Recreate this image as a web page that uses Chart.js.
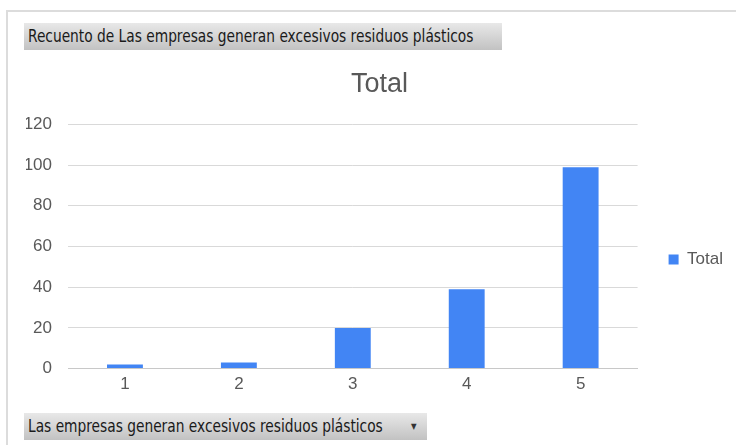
<!DOCTYPE html>
<html>
<head>
<meta charset="utf-8">
<script src="https://cdn.jsdelivr.net/npm/chart.js@4/dist/chart.umd.min.js"></script>
<style>
  html, body { margin: 0; padding: 0; background: #fff; }
  #wrap { position: relative; width: 736px; height: 445px; overflow: hidden; }
  #frame { position: absolute; left: 6px; top: 10px; width: 760px; height: 460px; border-left: 2px solid #dcdcdc; border-top: 2px solid #dcdcdc; box-sizing: border-box; }
  canvas { position: absolute; left: 0; top: 0; }
  .pill {
    position: absolute; height: 27px; line-height: 27px; box-sizing: border-box;
    font-family: "DejaVu Sans Condensed", "DejaVu Sans", sans-serif;
    font-size: 17px; color: #1a1a1a; white-space: nowrap;
    background: linear-gradient(#e8e8e8, #c2c2c2);
  }
  .pill .txt { position: absolute; left: 4px; top: 0; transform: scaleX(0.9); transform-origin: left center; }
  #top-pill { left: 24px; top: 23px; width: 478px; }
  #bottom-pill { left: 24px; top: 413px; width: 403px; }
  #bottom-pill .arrow { position: absolute; left: 387px; top: 0; font-size: 8px; color: #333; }
</style>
</head>
<body>
<div id="wrap">
  <div id="frame"></div>
  <canvas id="chart" width="736" height="445"></canvas>
  <div class="pill" id="top-pill"><span class="txt">Recuento de Las empresas generan excesivos residuos plásticos</span></div>
  <div class="pill" id="bottom-pill"><span class="txt">Las empresas generan excesivos residuos plásticos</span><span class="arrow">▼</span></div>
</div>
<script>
const categories = ['1', '2', '3', '4', '5']
const totals = [2, 3, 20, 39, 99]
const seriesName = 'Total'
const chartTitle = 'Total'

const grey = '#595959'
const font = "'Liberation Sans', Arial, sans-serif"

new Chart(document.getElementById('chart').getContext('2d'), {
  type: 'bar',
  data: {
    labels: categories,
    datasets: [
      { label: seriesName, data: totals, backgroundColor: '#4285F4', barPercentage: 0.63, categoryPercentage: 0.5 },
    ],
  },
  options: {
    responsive: false,
    animation: false,
    layout: { padding: { left: 26, right: 3, top: 0, bottom: 44 } },
    plugins: {
      title: {
        display: true, text: chartTitle, color: grey,
        font: { family: font, size: 27, weight: 'normal' },
        padding: { top: 68, bottom: 24 },
      },
      legend: {
        position: 'right',
        fullSize: false,
        // empty legend title only pushes the entry down to where Excel puts it
        title: { display: true, text: ' ', font: { size: 10 }, padding: 7 },
        labels: { color: grey, boxWidth: 10, boxHeight: 10, padding: 31, font: { family: font, size: 17 } },
      },
      tooltip: { enabled: false },
    },
    scales: {
      x: {
        grid: { display: false, drawTicks: false },
        border: { color: '#c8c8c8', width: 1 },
        ticks: { color: grey, padding: 6, font: { family: font, size: 17 } },
      },
      y: {
        min: 0, max: 120,
        grid: { color: '#d9d9d9', drawTicks: false },
        border: { display: false },
        ticks: { stepSize: 20, color: grey, padding: 16, font: { family: font, size: 17 } },
        afterFit(s) { s.width = 42 },
      },
    },
  },
})
</script>
</body>
</html>
